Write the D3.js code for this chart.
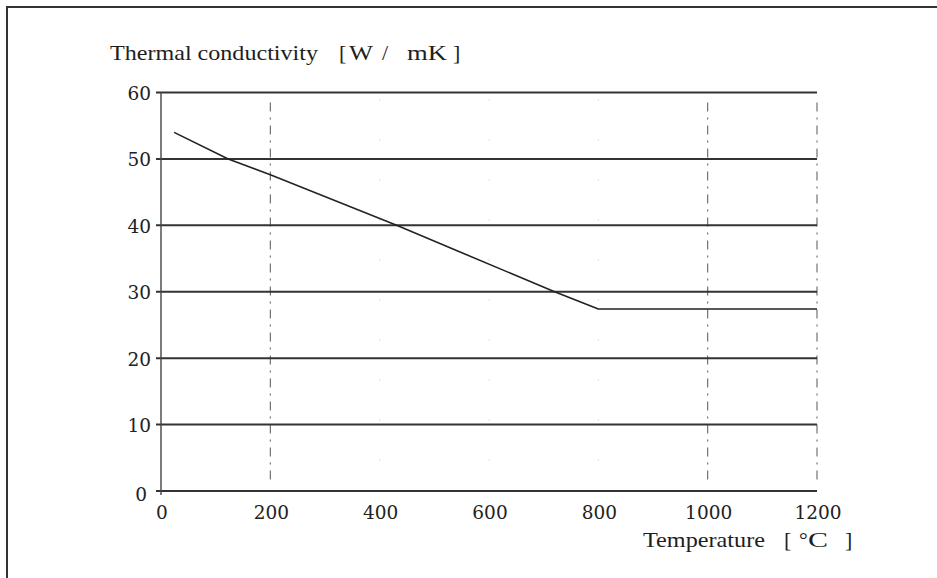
<!DOCTYPE html>
<html>
<head>
<meta charset="utf-8">
<script src="https://cdn.jsdelivr.net/npm/d3@7"></script>
<style>
  html, body { margin: 0; padding: 0; background: #fff; }
  svg { display: block; }
  .serif { font-family: "Liberation Serif", "DejaVu Serif", serif; fill: #1e1e1e; }
  .num { font-family: "DejaVu Serif", "Liberation Serif", serif; fill: #222; }
</style>
</head>
<body>
<svg id="chart" width="937" height="578"></svg>
<script>
// Thermal conductivity of the steel versus temperature
const temperatures = [24, 123, 200, 431, 720, 800, 1200];   // °C
const conductivity = [54, 50, 47.6, 40, 30, 27.4, 27.4];    // W / mK

const yTicks = [0, 10, 20, 30, 40, 50, 60];
const xTicks = [0, 200, 400, 600, 800, 1000, 1200];
const xMarked = [200, 1000, 1200];   // dashed reference lines
const xFaint = [400, 600, 800];      // barely printed reference lines

const W = 937, H = 578;
const svg = d3.select("#chart");

const x = d3.scaleLinear().domain([0, 1200]).range([161, 817]);
const y = d3.scaleLinear().domain([0, 60]).range([491, 92.5]);

// outer frame (top and left edges)
svg.append("path")
  .attr("d", `M7,${H} L7,7 L${W},7`)
  .attr("fill", "none")
  .attr("stroke", "#333")
  .attr("stroke-width", 2);

// vertical reference lines
svg.append("g").selectAll("line").data(xFaint).join("line")
  .attr("x1", d => x(d)).attr("x2", d => x(d))
  .attr("y1", y(59)).attr("y2", y(1))
  .attr("stroke", "#999")
  .attr("stroke-opacity", 0.3)
  .attr("stroke-width", 1)
  .attr("stroke-dasharray", "2,38");

svg.append("g").selectAll("line").data(xMarked).join("line")
  .attr("x1", d => x(d)).attr("x2", d => x(d))
  .attr("y1", y(58.5)).attr("y2", y(1.5))
  .attr("stroke", "#666")
  .attr("stroke-width", 1.1)
  .attr("stroke-dasharray", "9,6,2,6");

// horizontal grid lines with short ticks to the left of the axis
svg.append("g").selectAll("line").data(yTicks).join("line")
  .attr("x1", x(0) - 5).attr("x2", x(1200))
  .attr("y1", d => y(d)).attr("y2", d => y(d))
  .attr("stroke", "#333")
  .attr("stroke-width", 2);

// left axis line
svg.append("line")
  .attr("x1", x(0)).attr("x2", x(0))
  .attr("y1", y(60)).attr("y2", y(0) + 4)
  .attr("stroke", "#444")
  .attr("stroke-width", 1.4);

// y tick labels
svg.append("g").selectAll("text").data(yTicks).join("text")
  .attr("class", "num")
  .attr("x", d => d === 0 ? 147 : 151)
  .attr("y", d => y(d) + (d === 0 ? 10 : 7.5))
  .attr("text-anchor", "end")
  .attr("font-size", 18.5)
  .text(d => d);

// x tick labels
svg.append("g").selectAll("text").data(xTicks).join("text")
  .attr("class", "num")
  .attr("x", d => x(d) + 1)
  .attr("y", 519)
  .attr("text-anchor", "middle")
  .attr("font-size", 18.5)
  .text(d => d);

// data curve
const line = d3.line()
  .x((d, i) => x(temperatures[i]))
  .y(d => y(d));

svg.append("path")
  .datum(conductivity)
  .attr("d", line)
  .attr("fill", "none")
  .attr("stroke", "#222")
  .attr("stroke-width", 1.6)
  .attr("stroke-linejoin", "round");

// axis titles
function label(parts, baseline, size) {
  const t = svg.append("text").attr("class", "serif").attr("font-size", size);
  parts.forEach(p => {
    const s = t.append("tspan").attr("x", p.x).attr("y", baseline).text(p.text);
    if (p.len) s.attr("textLength", p.len).attr("lengthAdjust", "spacingAndGlyphs");
  });
}

label([
  { text: "Thermal conductivity", x: 110, len: 208 },
  { text: "[", x: 339 },
  { text: "W", x: 349, len: 24 },
  { text: "/", x: 382 },
  { text: "mK", x: 407, len: 40 },
  { text: "]", x: 453 }
], 60, 22);

label([
  { text: "Temperature", x: 643, len: 122 },
  { text: "[", x: 784 },
  { text: "°", x: 799 },
  { text: "C", x: 808, len: 20 },
  { text: "]", x: 845 }
], 547, 22);
</script>
</body>
</html>
